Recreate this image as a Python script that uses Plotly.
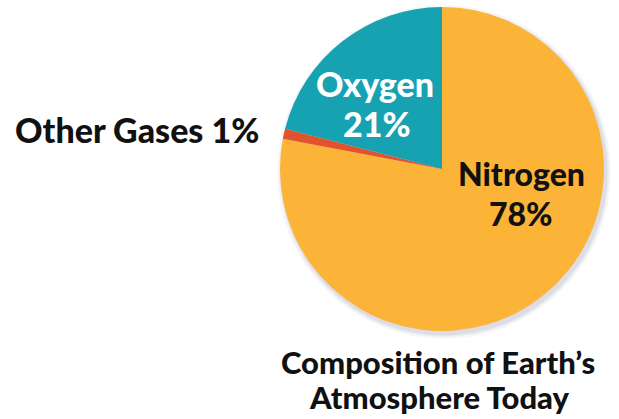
import plotly.graph_objects as go

# Composition of Earth's atmosphere (percent by volume)
labels = ["Nitrogen", "Other Gases", "Oxygen"]
values = [78, 1, 21]
colors = ["#FBB437", "#E2532B", "#17A2B2"]

title_lines = ["Composition of Earth\u2019s", "Atmosphere Today"]

W, H = 619, 419
cx, cy, r = 442, 169, 162  # pie centre / radius in pixels

FONT = "Lato, 'Open Sans', sans-serif"
DARK = "#111111"

fig = go.Figure(
    go.Pie(
        labels=labels,
        values=values,
        marker=dict(colors=colors, line=dict(width=0)),
        sort=False,
        direction="clockwise",
        rotation=0,
        textinfo="none",
        hoverinfo="label+percent",
        showlegend=False,
        domain=dict(
            x=[(cx - r) / W, (cx + r) / W],
            y=[(H - cy - r) / H, (H - cy + r) / H],
        ),
    )
)


def px(x, y):
    return x / W, 1 - y / H


def label(text, x, y, size, color=DARK):
    xp, yp = px(x, y)
    return dict(x=xp, y=yp, text=text, xref="paper", yref="paper",
                showarrow=False, xanchor="center", yanchor="middle",
                font=dict(family=FONT, size=size, color=color, weight=900))


annotations = [
    # Nitrogen, inside its slice
    label(labels[0], 521, 174, 32),
    label(f"{values[0]}%", 521, 213, 32),
    # Oxygen, inside its slice (white)
    label(labels[2], 375, 84, 34, "white"),
    label(f"{values[2]}%", 377, 123, 34, "white"),
    # Other gases, to the left of the pie
    label(f"{labels[1]} {values[1]}%", 137, 129, 34),
    # Title under the pie
    label(title_lines[0], 438, 362, 31),
    label(title_lines[1], 439, 397, 31),
]

# soft drop shadow around the pie rim
shapes = []
for grow, alpha in [(5, 0.05), (3, 0.07), (1.5, 0.09)]:
    x0, y0 = px(cx - r - grow + 2, cy - r - grow + 3)
    x1, y1 = px(cx + r + grow + 2, cy + r + grow + 3)
    shapes.append(dict(type="circle", xref="paper", yref="paper",
                       x0=x0, x1=x1, y0=y1, y1=y0, layer="below",
                       fillcolor=f"rgba(90,90,130,{alpha})",
                       line=dict(width=0)))

fig.update_layout(
    width=W, height=H,
    margin=dict(l=0, r=0, t=0, b=0),
    paper_bgcolor="white",
    plot_bgcolor="white",
    annotations=annotations,
    shapes=shapes,
)

fig.write_html("out.html")
